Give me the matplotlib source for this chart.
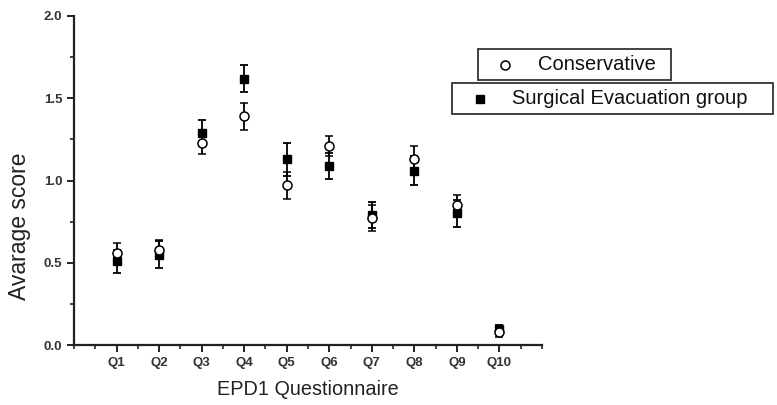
import matplotlib
matplotlib.use("Agg")
import matplotlib.pyplot as plt
from matplotlib.lines import Line2D
from matplotlib.patches import Rectangle
import numpy as np

categories = ["Q1", "Q2", "Q3", "Q4", "Q5", "Q6", "Q7", "Q8", "Q9", "Q10"]
conservative_mean = [0.56, 0.58, 1.23, 1.39, 0.97, 1.21, 0.77, 1.13, 0.85, 0.08]
conservative_err = [0.06, 0.06, 0.07, 0.08, 0.08, 0.06, 0.08, 0.08, 0.06, 0.03]
surgical_mean = [0.51, 0.55, 1.29, 1.62, 1.13, 1.09, 0.79, 1.06, 0.80, 0.10]
surgical_err = [0.07, 0.08, 0.08, 0.085, 0.10, 0.08, 0.08, 0.09, 0.08, 0.02]
legend_labels = ["Conservative", "Surgical Evacuation group"]

plt.rcParams['font.family'] = ['Liberation Sans', 'DejaVu Sans']

W, H = 777, 405
fig = plt.figure(figsize=(W / 100, H / 100), dpi=100)
ax = fig.add_axes([74 / W, 1 - 345 / H, (542 - 74) / W, (345 - 16) / H])

x = np.arange(1, len(categories) + 1)

ax.errorbar(x, surgical_mean, yerr=surgical_err, fmt='s', color='black',
            markersize=6, markerfacecolor='black', ecolor='black',
            elinewidth=1.3, capsize=3, capthick=1.3, zorder=3)
ax.errorbar(x, conservative_mean, yerr=conservative_err, fmt='o', color='black',
            markersize=6.5, markerfacecolor='white', markeredgewidth=1.1,
            ecolor='black', elinewidth=1.3, capsize=3, capthick=1.3, zorder=4)

ax.set_xlim(0, 11)
ax.set_ylim(0, 2.0)
ax.set_xticks(x)
ax.set_xticklabels(categories)
ax.set_xticks(np.arange(0, 11.01, 0.5), minor=True)
ax.set_yticks([0.0, 0.5, 1.0, 1.5, 2.0])
ax.set_yticklabels(["0.0", "0.5", "1.0", "1.5", "2.0"])
ax.set_yticks([0.25, 0.75, 1.25, 1.75], minor=True)

for s in ['top', 'right']:
    ax.spines[s].set_visible(False)
for s in ['left', 'bottom']:
    ax.spines[s].set_linewidth(1.6)
    ax.spines[s].set_color('#222222')

ax.tick_params(axis='both', which='major', direction='out', length=5, width=1.4,
               labelsize=9.5, colors='#222222')
ax.tick_params(axis='both', which='minor', direction='out', length=3, width=1.2,
               colors='#222222')
for lab in ax.get_xticklabels() + ax.get_yticklabels():
    lab.set_fontweight('bold')
    lab.set_color('#333333')

ax.set_xlabel("EPD1 Questionnaire", fontsize=14.3, labelpad=8, color='#222222')
ax.set_ylabel("Avarage score", fontsize=16.5, color='#222222',
              va='center', ha='center')
ax.yaxis.set_label_coords((20 - 74) / 468, (345 - 226) / 329)

# Two separate legend boxes (as in the reference)
def fx(px):
    return px / W

def fy(py):
    return 1 - py / H

boxes = [(478, 49, 671, 80), (452, 83, 773, 114)]
mk = [dict(marker='o', markersize=6.5, markerfacecolor='white',
           markeredgecolor='black', markeredgewidth=1.1),
      dict(marker='s', markersize=6, markerfacecolor='black',
           markeredgecolor='black')]
mk_x = [505, 480]
txt_x = [538, 512]
for (x0, y0, x1, y1), m, mx, tx, lab in zip(boxes, mk, mk_x, txt_x, legend_labels):
    fig.add_artist(Rectangle((fx(x0), fy(y1)), fx(x1) - fx(x0), fy(y0) - fy(y1),
                             transform=fig.transFigure, fill=True,
                             facecolor='white', edgecolor='#333333', linewidth=1.3))
    yc = fy((y0 + y1) / 2)
    fig.add_artist(Line2D([fx(mx)], [yc], transform=fig.transFigure,
                          linestyle='none', **m))
    fig.text(fx(tx), yc, lab, fontsize=14.5, va='center', ha='left',
             color='#111111')

fig.savefig("out.png", dpi=100)
